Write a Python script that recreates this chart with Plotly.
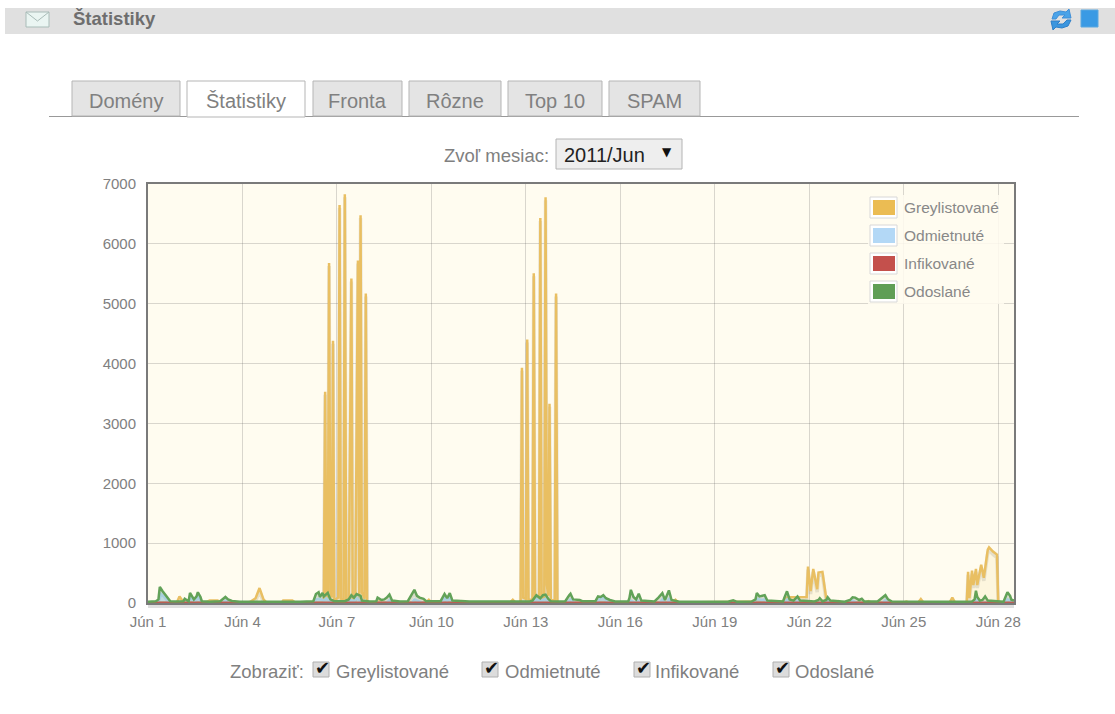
import pandas as pd
import plotly.graph_objects as go

# ---- data: hours since 1 June 2011 00:00 and the values ----
series_names = ["Greylistované", "Odmietnuté", "Infikované", "Odoslané"]
series_colors = ["#e9bf62", "#afd4f0", "#c25450", "#62a258"]
series_fills = ["rgba(237,194,64,0.10)", "rgba(160,205,240,0.55)", "rgba(203,75,75,0.3)", "rgba(120,170,110,0.12)"]

grey_hours = [0, 22, 24, 27, 44, 47, 53, 56, 76, 78, 82, 85, 88, 90, 102, 103, 110, 112, 133,
              134, 135, 136, 137, 138, 139, 140, 141, 142, 143, 145, 146, 147, 149, 150, 151, 153, 155, 156, 158, 160, 161, 162, 163, 165, 166, 167, 168,
              175, 177, 180, 212, 214, 216, 276, 278, 280, 283,
              284, 285, 286, 288, 289, 290, 293, 294, 295, 298, 299, 300, 302, 303, 304, 305, 306, 307, 310, 311, 312, 313,
              400, 402, 404, 484, 486, 490, 499, 502, 503, 505, 507, 510, 511, 514, 517, 519,
              524, 526, 528, 547, 549, 551, 576, 578, 580, 587, 589, 591, 611, 613, 615,
              624, 625, 626, 628, 629, 631, 632, 635, 637, 640, 641, 644, 647, 648, 650, 660]
grey_values = [10, 10, 110, 15, 10, 40, 40, 10, 10, 20, 80, 250, 60, 15, 10, 40, 40, 10, 10,
               40, 3530, 60, 80, 5680, 180, 90, 4380, 50, 60, 90, 6650, 70, 50, 6830, 60, 40, 5420, 60, 50, 5720, 120, 6480, 180, 70, 5170, 30, 10,
               10, 40, 10, 10, 55, 10, 10, 55, 10, 10,
               40, 3930, 90, 70, 4400, 60, 50, 5510, 80, 60, 6430, 100, 90, 6780, 300, 120, 3330, 40, 50, 5170, 30, 10,
               10, 55, 10, 30, 90, 95, 90, 100, 607, 200, 570, 230, 510, 520, 60, 15,
               10, 30, 10, 10, 30, 10, 10, 25, 10, 10, 67, 10, 10, 90, 10,
               10, 520, 80, 540, 300, 570, 300, 640, 420, 890, 930, 860, 810, 20, 10, 10]

blue_hours = [0, 7, 9, 10, 13, 16, 18, 30, 32, 34, 36, 38, 40, 42, 57, 59, 62, 126, 128, 131, 134, 136, 139, 141,
              152, 155, 157, 159, 163, 165, 182, 184, 187, 201, 203, 207, 209, 224, 226, 228, 230, 232, 234,
              293, 296, 299, 303, 305, 307, 319, 322, 325, 341, 345, 347, 350, 352,
              365, 368, 371, 373, 375, 390, 392, 394, 396, 397, 399, 461, 464, 468, 470, 472, 485, 487, 489,
              493, 495, 497, 516, 518, 520, 535, 537, 540, 560, 562, 564, 629, 631, 633, 653, 655, 657, 660]
blue_values = [5, 5, 80, 150, 90, 20, 5, 5, 90, 50, 30, 100, 40, 5, 5, 40, 5, 5, 60, 70, 40, 80, 20, 5,
               5, 50, 30, 80, 10, 5, 5, 50, 5, 5, 60, 20, 5, 5, 80, 40, 90, 10, 5,
               5, 70, 30, 70, 20, 5, 5, 60, 5, 5, 80, 110, 20, 5,
               5, 40, 10, 45, 5, 5, 60, 5, 5, 80, 5, 5, 70, 50, 60, 5, 5, 60, 5,
               5, 40, 5, 5, 40, 5, 5, 40, 5, 5, 50, 5, 5, 70, 5, 5, 60, 40, 10]

red_hours = [0, 10, 40, 85, 150, 205, 300, 345, 400, 470, 505, 560, 640, 660]
red_values = [3, 6, 3, 4, 5, 3, 6, 4, 3, 5, 6, 3, 5, 3]

green_hours = [0, 3, 6, 8, 9, 11, 13, 14, 17, 21, 24, 27, 28, 30, 31, 32, 34, 35, 37, 38, 40, 41, 47, 55, 59, 61, 64, 70, 116, 126,
               128, 130, 131, 133, 134, 136, 137, 139, 142, 150, 153, 155, 157, 159, 162, 163, 169, 174, 175, 178, 180, 182, 184, 186,
               192, 198, 200, 203, 205, 207, 210, 212, 223, 225, 226, 228, 230, 232, 245, 291, 293, 296, 299, 301, 303, 305, 307,
               314, 318, 321, 322, 324, 329, 331, 341, 343, 345, 347, 349, 352, 356, 366, 367, 368, 370, 372, 374, 376,
               386, 389, 392, 394, 395, 397, 399, 405, 442, 446, 449, 460, 463, 464, 466, 469, 470, 472, 484, 485, 487, 489, 492, 495, 497,
               508, 511, 512, 514, 517, 518, 520, 531, 535, 537, 539, 542, 544, 546, 556, 559, 562, 564, 567, 619, 628, 630, 631, 632, 634, 636, 638, 640,
               652, 655, 657, 658, 660]
green_values = [20, 25, 30, 60, 270, 200, 140, 110, 30, 25, 25, 30, 70, 35, 30, 170, 110, 60, 110, 180, 100, 30, 20, 30, 100, 60, 35, 20, 20, 30,
                150, 180, 100, 170, 110, 160, 170, 60, 30, 30, 60, 130, 90, 150, 120, 40, 25, 30, 90, 50, 60, 90, 140, 40,
                25, 30, 100, 220, 120, 90, 70, 30, 30, 100, 150, 80, 165, 40, 25, 25, 40, 130, 80, 130, 140, 70, 30,
                25, 30, 130, 155, 60, 50, 30, 30, 110, 100, 130, 80, 50, 25, 25, 90, 220, 100, 60, 155, 40,
                25, 90, 165, 50, 110, 210, 50, 20, 20, 45, 20, 25, 60, 165, 110, 120, 130, 40, 25, 90, 195, 60, 40, 110, 40,
                25, 50, 80, 30, 50, 95, 40, 20, 50, 95, 90, 50, 70, 25, 25, 70, 130, 60, 25, 20, 25, 60, 205, 100, 40, 50, 110, 40,
                20, 180, 120, 55, 40]

hour_lists = [grey_hours, blue_hours, red_hours, green_hours]
value_lists = [grey_values, blue_values, red_values, green_values]

tick_days = [1, 4, 7, 10, 13, 16, 19, 22, 25, 28]
y_ticks = [0, 1000, 2000, 3000, 4000, 5000, 6000, 7000]
tab_labels = ["Domény", "Štatistiky", "Fronta", "Rôzne", "Top 10", "SPAM"]

start = pd.Timestamp("2011-06-01 00:00")
def to_dates(hours):
    return [start + pd.Timedelta(hours=h) for h in hours]

W, H = 1115, 714
L, R, T, B = 148, 1014, 184, 603
GREY = "#808080"
FONT = "Liberation Sans"

def px(x):
    return (x - L) / (R - L)
def py(y):
    return (B - y) / (B - T)

shapes, notes = [], []
def rect(x0, y0, x1, y1, fill, line=None, lw=1):
    shapes.append(dict(type="rect", xref="paper", yref="paper", x0=px(x0), x1=px(x1), y0=py(y0), y1=py(y1),
                       fillcolor=fill, line=dict(color=line or "rgba(0,0,0,0)", width=lw if line else 0)))
def path(points, line, lw=1, fill=None, close=False):
    d = "M " + " L ".join(f"{px(a):.5f},{py(b):.5f}" for a, b in points) + (" Z" if close else "")
    shapes.append(dict(type="path", xref="paper", yref="paper", path=d, fillcolor=fill or "rgba(0,0,0,0)",
                       line=dict(color=line, width=lw)))
def text(x, y, s, size, color=GREY, anchor="left", bold=False, font=FONT):
    notes.append(dict(xref="paper", yref="paper", x=px(x), y=py(y), text=f"<b>{s}</b>" if bold else s, showarrow=False,
                      xanchor=anchor, yanchor="middle", font=dict(size=size, color=color, family=font),
                      borderpad=0, borderwidth=0))

# header bar
rect(5, 8, 1115, 34, "#e0e0e0")
rect(26, 12, 49, 27, "#eaf5f2", "#a9bcb8", 1)
path([(26, 12), (37.5, 21), (49, 12)], "#a9bcb8", 1)
text(73, 19, "Štatistiky", 18.5, "#6e6e6e", bold=True)
# refresh icon
path([(1052, 19), (1054, 13), (1060, 11), (1066, 12), (1069, 9), (1071, 18), (1062, 18), (1065, 15), (1059, 15), (1056, 19)],
     "#3f8fd8", 1, "#4aa3e8", True)
path([(1071, 20), (1068, 26), (1062, 28), (1056, 27), (1053, 30), (1051, 21), (1060, 21), (1057, 24), (1063, 24), (1067, 20)],
     "#2f7fc8", 1, "#3c96de", True)
rect(1081, 10, 1098, 27, "#3a9ae4", "#5aa8e0", 1)

# tabs
tab_x = [(72, 180), (187, 305), (313, 402), (409, 501), (508, 602), (609, 700)]
rect(49, 116, 1079, 117, "#999999")
for i, (label, (a, b)) in enumerate(zip(tab_labels, tab_x)):
    active = i == 1
    rect(a, 81, b, 117 if active else 116, "#ffffff" if active else "#e4e4e4", "#b5b5b5", 1)
    text((a + b) / 2, 101, label, 20, GREY, "center")

# month selector
text(549, 155, "Zvoľ mesiac:", 18.5, GREY, "right")
rect(556, 139, 682, 169, "#eeeeee", "#b4b4b4", 1)
text(564, 155, "2011/Jun", 20, "#222222")
text(667, 152, "▼", 12, "#111111", "center", font="DejaVu Sans")

# plot legend box
rect(868, 195, 1004, 304, "rgba(255,252,240,0.85)")
legend_y = [(197, 218), (225, 246), (253, 274), (281, 302)]
swatches = ["#ebbc53", "#b3d8f6", "#c4504c", "#5f9e55"]
for name, color, (a, b) in zip(series_names, swatches, legend_y):
    rect(870, a, 897, b, "#ffffff", "#d8d8d8", 1)
    rect(873, a + 3, 895, b - 3, color)
    text(904, (a + b) / 2 - 0.5, name, 15.5, "#888888")

# shadow under baseline
rect(L, 605, R, 608, "rgba(110,110,110,0.22)")

# checkboxes
text(304, 671, "Zobraziť:", 18.5, GREY, "right")
box_x = [313, 482, 634, 773]
label_x = [336, 505, 655, 795]
for name, bx, lx in zip(series_names, box_x, label_x):
    rect(bx, 662, bx + 16, 677, "#dcdcdc", "#b0b0b0", 1)
    text(bx + 9, 667, "✔", 18, "#111111", "center", font="DejaVu Sans")
    text(lx, 671, name, 18.5, GREY)

fig = go.Figure()
# soft shadows of the two main lines, then the four series in drawing order
for hrs, vals in [(grey_hours, grey_values), (green_hours, green_values)]:
    fig.add_trace(go.Scatter(x=to_dates(hrs), y=[v - 50 for v in vals], mode="lines", showlegend=False, hoverinfo="skip",
                             line=dict(color="rgba(70,70,70,0.14)", width=3.5), cliponaxis=False))
for name, color, fillc, hrs, vals in zip(series_names, series_colors, series_fills, hour_lists, value_lists):
    fig.add_trace(go.Scatter(x=to_dates(hrs), y=vals, name=name, mode="lines", fill="tozeroy", fillcolor=fillc,
                             line=dict(color=color, width=2.5), showlegend=False, cliponaxis=False))

fig.update_layout(
    width=W, height=H, autosize=False,
    margin=dict(l=L, r=W - R, t=T, b=H - B, autoexpand=False),
    paper_bgcolor="#ffffff", plot_bgcolor="#fffcf0",
    font=dict(family=FONT, size=15, color=GREY),
    shapes=shapes, annotations=notes, showlegend=False,
    xaxis=dict(range=[start, start + pd.Timedelta(hours=660)], type="date",
               tickvals=[pd.Timestamp(2011, 6, d) for d in tick_days], ticktext=[f"Jún {d}" for d in tick_days],
               showgrid=True, gridcolor="rgba(84,84,84,0.22)", gridwidth=1,
               showline=True, mirror=True, linecolor="#7a7a7a", linewidth=2,
               ticks="outside", ticklen=4, tickcolor="rgba(0,0,0,0)", tickfont=dict(size=15, color="#808080"), zeroline=False),
    yaxis=dict(range=[0, 7000], tickvals=y_ticks, ticktext=[str(v) for v in y_ticks],
               showgrid=True, gridcolor="rgba(84,84,84,0.22)", gridwidth=1,
               showline=True, mirror=True, linecolor="#7a7a7a", linewidth=2,
               ticks="outside", ticklen=7, tickcolor="rgba(0,0,0,0)", tickfont=dict(size=15, color="#808080"), zeroline=False),
)

fig.write_html("out.html", config=dict(displayModeBar=False),
               post_script="document.body.style.margin='0';document.body.style.overflow='hidden';")
